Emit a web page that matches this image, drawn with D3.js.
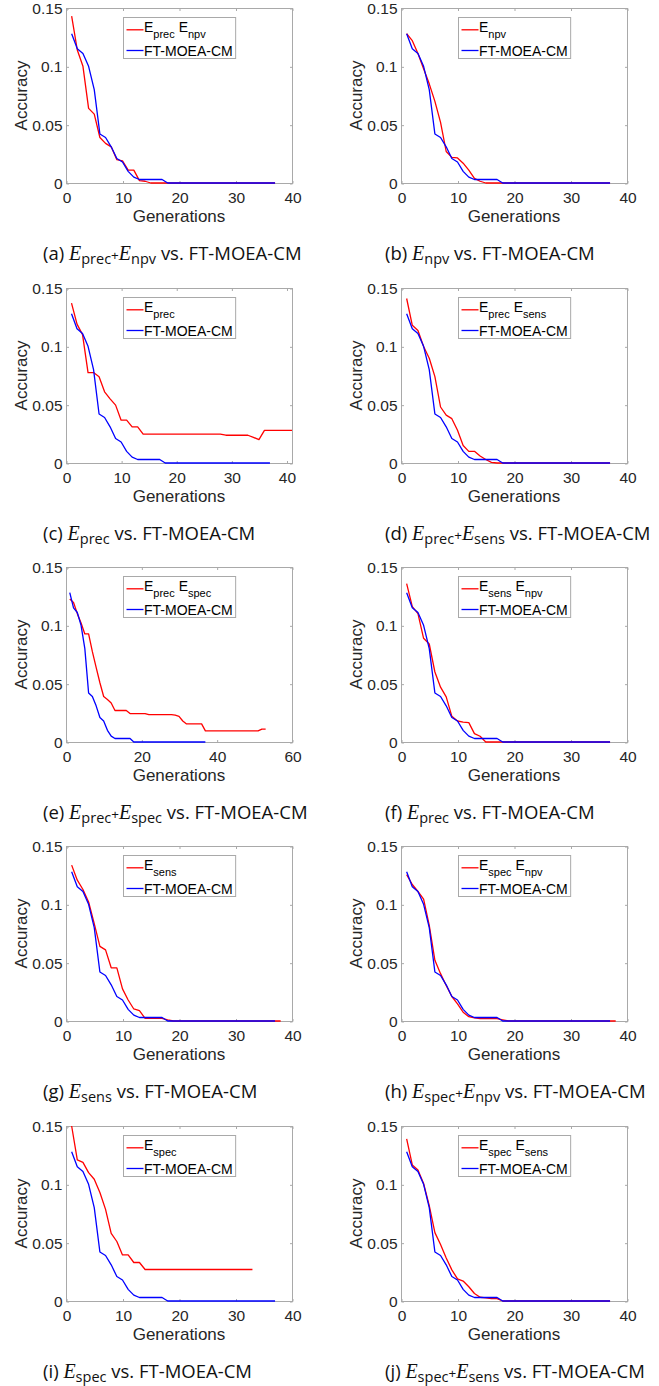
<!DOCTYPE html>
<html>
<head>
<meta charset="utf-8">
<script src="https://cdn.jsdelivr.net/npm/d3@7"></script>
<style>
  body { margin: 0; background: #fff; }
  svg { display: block; }
</style>
</head>
<body>
<svg id="fig" width="659" height="1386"></svg>
<script>
// FT-MOEA-CM curve (same run in every panel), one value per generation
const ftMoeaCm = [
  0.128, 0.115, 0.111, 0.100, 0.080, 0.042, 0.039, 0.031, 0.021, 0.018,
  0.010, 0.005, 0.003, 0.003, 0.003, 0.003, 0.003, 0, 0, 0,
  0, 0, 0, 0, 0, 0, 0, 0, 0, 0,
  0, 0, 0, 0, 0, 0, 0
]

// red curves, one per panel
const precNpv = [
  0.143, 0.114, 0.100, 0.064, 0.059, 0.039, 0.034, 0.031, 0.020, 0.019,
  0.011, 0.011, 0.002, 0.0015, 0, 0, 0, 0, 0, 0,
  0, 0, 0, 0, 0, 0, 0, 0, 0, 0,
  0, 0, 0, 0, 0, 0, 0
]
const npv = [
  0.128, 0.122, 0.111, 0.098, 0.085, 0.070, 0.052, 0.027, 0.022, 0.0215,
  0.017, 0.011, 0.004, 0.0015, 0, 0, 0, 0, 0, 0,
  0, 0, 0, 0, 0, 0, 0, 0, 0, 0,
  0, 0, 0, 0, 0, 0, 0
]
const prec = [
  0.137, 0.119, 0.110, 0.0775, 0.0775, 0.074, 0.061, 0.055, 0.0496, 0.0367,
  0.0367, 0.031, 0.031, 0.0247, 0.0247, 0.0247, 0.0247, 0.0247, 0.0247, 0.0247,
  0.0247, 0.0247, 0.0247, 0.0247, 0.0247, 0.0247, 0.0247, 0.0247, 0.0238, 0.0238,
  0.0238, 0.0238, 0.0238, 0.022, 0.020, 0.028, 0.028, 0.028, 0.028, 0.028,
  0.028
]
const precSens = [
  0.141, 0.118, 0.1136, 0.0998, 0.0898, 0.074, 0.048, 0.041, 0.038, 0.028,
  0.015, 0.010, 0.010, 0.006, 0.003, 0.0006, 0, 0, 0, 0,
  0, 0, 0, 0, 0, 0, 0, 0, 0, 0,
  0, 0, 0, 0, 0, 0, 0
]
const precSpec = [
  0.1225, 0.1196, 0.110, 0.102, 0.0926, 0.0926, 0.0774, 0.064, 0.0508, 0.039,
  0.0364, 0.0335, 0.027, 0.027, 0.027, 0.027, 0.0244, 0.0244, 0.0244, 0.0244,
  0.0244, 0.0235, 0.0235, 0.0235, 0.0235, 0.0235, 0.0235, 0.0235, 0.023, 0.022,
  0.018, 0.0155, 0.0155, 0.0155, 0.0155, 0.0155, 0.0095, 0.0095, 0.0095, 0.0095,
  0.0095, 0.0095, 0.0095, 0.0095, 0.0095, 0.0095, 0.0095, 0.0095, 0.0095, 0.0095,
  0.0095, 0.011, 0.011
]
const sensNpv = [
  0.1357, 0.116, 0.110, 0.0889, 0.084, 0.060, 0.047, 0.0387, 0.022, 0.018,
  0.017, 0.0166, 0.0072, 0.0049, 0, 0, 0, 0, 0, 0,
  0, 0, 0, 0, 0, 0, 0, 0, 0, 0,
  0, 0, 0, 0, 0, 0, 0
]
const sens = [
  0.1336, 0.1207, 0.1127, 0.102, 0.0835, 0.064, 0.061, 0.0456, 0.0456, 0.0275,
  0.018, 0.0103, 0.0089, 0.0023, 0.0023, 0.0023, 0.0023, 0.001, 0, 0,
  0, 0, 0, 0, 0, 0, 0, 0, 0, 0,
  0, 0, 0, 0, 0, 0, 0, 0
]
const specNpv = [
  0.1255, 0.117, 0.111, 0.1045, 0.082, 0.052, 0.0406, 0.0305, 0.021, 0.0147,
  0.0075, 0.0037, 0.0026, 0.002, 0.002, 0.002, 0.002, 0.001, 0, 0,
  0, 0, 0, 0, 0, 0, 0, 0, 0, 0,
  0, 0, 0, 0, 0, 0, 0, 0
]
const spec = [
  0.150, 0.1209, 0.1188, 0.110, 0.1044, 0.093, 0.0785, 0.058, 0.051, 0.0395,
  0.0395, 0.033, 0.033, 0.027, 0.027, 0.027, 0.027, 0.027, 0.027, 0.027,
  0.027, 0.027, 0.027, 0.027, 0.027, 0.027, 0.027, 0.027, 0.027, 0.027,
  0.027, 0.027, 0.027
]
const specSens = [
  0.139, 0.1166, 0.1123, 0.1007, 0.0818, 0.0586, 0.0484, 0.0368, 0.0267, 0.0189,
  0.0171, 0.0122, 0.0064, 0.0032, 0.0026, 0.002, 0.002, 0, 0, 0,
  0, 0, 0, 0, 0, 0, 0, 0, 0, 0,
  0, 0, 0, 0, 0, 0, 0
]

// panel order a..j (left column a,c,e,g,i ; right column b,d,f,h,j)
const panelLetters = ["a", "b", "c", "d", "e", "f", "g", "h", "i", "j"]
const redSeries = [precNpv, npv, prec, precSens, precSpec, sensNpv, sens, specNpv, spec, specSens]
const legendSubs = [
  ["prec", "npv"], ["npv"], ["prec"], ["prec", "sens"], ["prec", "spec"],
  ["sens", "npv"], ["sens"], ["spec", "npv"], ["spec"], ["spec", "sens"]
]
const captionSubs = [
  ["prec", "npv"], ["npv"], ["prec"], ["prec", "sens"], ["prec", "spec"],
  ["prec"], ["sens"], ["spec", "npv"], ["spec"], ["spec", "sens"]
]
const xMax = [40, 40, 41, 40, 60, 40, 40, 40, 40, 40]
const xTicks = [
  [0, 10, 20, 30, 40], [0, 10, 20, 30, 40], [0, 10, 20, 30, 40], [0, 10, 20, 30, 40],
  [0, 20, 40, 60], [0, 10, 20, 30, 40], [0, 10, 20, 30, 40], [0, 10, 20, 30, 40],
  [0, 10, 20, 30, 40], [0, 10, 20, 30, 40]
]
const yTicks = [0, 0.05, 0.1, 0.15]
const yTickLabels = ["0", "0.05", "0.1", "0.15"]
const seriesName = "FT-MOEA-CM"

// layout
const COL_LEFT = [66, 401]
const ROW_TOP = [8, 288, 567, 846, 1126]
const W = 226
const H = 175
const TICK = 2.5
const CAPTION_X = [43, 385]
const SANS = "'Liberation Sans', Helvetica, Arial, sans-serif"
const CAP_FONT = "'Open Sans', 'Noto Sans', sans-serif"
const RED = "#ff0000"
const BLUE = "#0000ff"

const svg = d3.select("#fig")

function drawPanel(i) {
  const left = COL_LEFT[i % 2]
  const top = ROW_TOP[Math.floor(i / 2)]
  const g = svg.append("g").attr("transform", `translate(${left},${top})`)

  const xs = d3.scaleLinear().domain([0, xMax[i]]).range([0, W])
  const ys = d3.scaleLinear().domain([0, 0.15]).range([H, 0])

  // box
  g.append("rect")
    .attr("x", 0.5).attr("y", 0.5)
    .attr("width", W).attr("height", H)
    .style("fill", "none")
    .style("stroke", "#a9a9a9")
    .style("stroke-width", 1)

  // axes (inward ticks, mirrored on top/right)
  const bottom = g.append("g").attr("transform", `translate(0.5,${H + 0.5})`)
    .call(d3.axisBottom(xs).tickValues(xTicks[i]).tickFormat(d3.format("d"))
      .tickSizeInner(-TICK).tickSizeOuter(0).tickPadding(8.5))
  const leftAx = g.append("g").attr("transform", "translate(0.5,0.5)")
    .call(d3.axisLeft(ys).tickValues(yTicks).tickFormat((d, k) => yTickLabels[k])
      .tickSizeInner(-TICK).tickSizeOuter(0).tickPadding(4))
  const topAx = g.append("g").attr("transform", "translate(0.5,0.5)")
    .call(d3.axisTop(xs).tickValues(xTicks[i]).tickFormat("")
      .tickSizeInner(-TICK).tickSizeOuter(0))
  const rightAx = g.append("g").attr("transform", `translate(${W + 0.5},0.5)`)
    .call(d3.axisRight(ys).tickValues(yTicks).tickFormat("")
      .tickSizeInner(-TICK).tickSizeOuter(0))
  ;[bottom, leftAx, topAx, rightAx].forEach(ax => {
    ax.select(".domain").remove()
    ax.selectAll(".tick line").style("stroke", "#a9a9a9")
    ax.selectAll("text")
      .style("font-family", SANS)
      .style("font-size", "15.5px")
      .style("fill", "#262626")
  })

  // axis labels
  g.append("text")
    .text("Generations")
    .attr("x", W / 2).attr("y", H + 38.5)
    .style("text-anchor", "middle")
    .style("font-family", SANS).style("font-size", "17px").style("fill", "#262626")
  g.append("text")
    .text("Accuracy")
    .attr("transform", `translate(-39,${H / 2}) rotate(-90)`)
    .style("text-anchor", "middle")
    .style("font-family", SANS).style("font-size", "17px").style("fill", "#262626")

  // curves: red under blue
  const line = d3.line().x((d, k) => xs(k + 1)).y(d => ys(d))
  g.append("path").datum(redSeries[i]).attr("d", line)
    .style("fill", "none").style("stroke", RED).style("stroke-width", 1.3)
    .style("stroke-linejoin", "round")
  g.append("path").datum(ftMoeaCm).attr("d", line)
    .style("fill", "none").style("stroke", BLUE).style("stroke-width", 1.3)
    .style("stroke-linejoin", "round")

  // legend, centred at top of the axes
  const lg = g.append("g")
  const box = lg.append("rect")
    .style("fill", "#fff").style("stroke", "#a9a9a9").style("stroke-width", 1)
  const t1 = lg.append("text").attr("y", 14)
    .style("font-family", SANS).style("font-size", "14px").style("fill", "#000")
  legendSubs[i].forEach((s, k) => {
    t1.append("tspan").attr("dy", k === 0 ? 0 : -6.5).text(k === 0 ? "E" : "\u00a0E")
    t1.append("tspan").attr("dy", 6.5).style("font-size", "11px").text(s)
  })
  const t2 = lg.append("text").attr("y", 38).text(seriesName)
    .style("font-family", SANS).style("font-size", "14px").style("fill", "#000")
  const tw = Math.max(t1.node().getComputedTextLength(), t2.node().getComputedTextLength())
  const bw = 20.5 + tw + 3
  const bx = Math.round(W / 2 - bw / 2) + 0.5
  lg.attr("transform", `translate(${bx},9.5)`)
  box.attr("width", bw).attr("height", 41)
  t1.attr("x", 20.5)
  t2.attr("x", 20.5)
  lg.append("line").attr("x1", 3).attr("x2", 20).attr("y1", 12.3).attr("y2", 12.3)
    .style("stroke", RED).style("stroke-width", 1.3)
  lg.append("line").attr("x1", 3).attr("x2", 20).attr("y1", 33).attr("y2", 33)
    .style("stroke", BLUE).style("stroke-width", 1.3)

  // caption
  const cap = svg.append("text")
    .attr("x", CAPTION_X[i % 2]).attr("y", top + H + 77)
    .style("font-family", CAP_FONT).style("font-size", "18.5px").style("fill", "#111")
  cap.append("tspan").text(`(${panelLetters[i]})\u00a0`)
  captionSubs[i].forEach((s, k) => {
    if (k > 0) cap.append("tspan").attr("dy", -4).style("font-size", "13.5px").text("+")
    cap.append("tspan").attr("dy", k > 0 ? 0 : null)
      .style("font-family", "'Liberation Serif', 'DejaVu Serif', serif")
      .style("font-size", "20px")
      .style("font-style", "italic").text("E")
    cap.append("tspan").attr("dy", 4).style("font-size", "14.5px").text(s)
  })
  cap.append("tspan").attr("dy", -4).text("\u00a0vs. FT-MOEA-CM")
}

panelLetters.forEach((_, i) => drawPanel(i))
</script>
</body>
</html>
